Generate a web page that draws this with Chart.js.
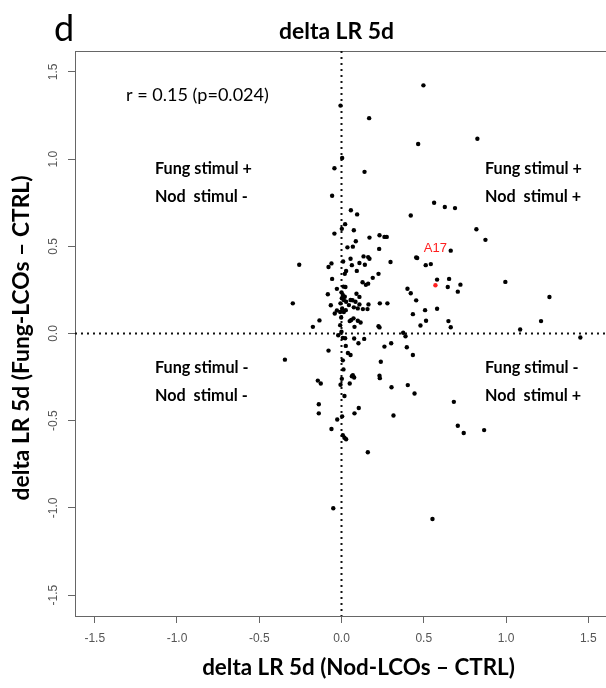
<!DOCTYPE html>
<html>
<head>
<meta charset="utf-8">
<script src="https://cdn.jsdelivr.net/npm/chart.js@4.4.0/dist/chart.umd.min.js"></script>
<style>
html, body { margin: 0; padding: 0; background: #fff; overflow: hidden; }
#wrap { width: 612px; height: 688px; position: relative; }
</style>
</head>
<body>
<div id="wrap"><canvas id="myChart"></canvas></div>
<script>
// axis ticks
const xTicks = [-1.5, -1.0, -0.5, 0.0, 0.5, 1.0, 1.5];
const yTicks = [-1.5, -1.0, -0.5, 0.0, 0.5, 1.0, 1.5];

// delta LR 5d: Nod-LCOs - CTRL (x) vs Fung-LCOs - CTRL (y)
const nodDelta = [
  0.498, -0.006, 0.168, 0.466, 0.004, -0.043, 0.14, -0.057, 0.563, 0.628,
  0.057, 0.095, 0.421, 0.022, 0.002, 0.075, -0.043, 0.231, 0.261, 0.275,
  0.17, 0.087, 0.036, 0.069, 0.229, 0.454, 0.826, 0.69, 0.82, 0.875,
  0.664, 0.543, 0.581, 0.654, 0.723, 0.707, 0.646, 0.996, 1.264, 0.581,
  0.65, 0.664, 1.213, 1.086, 1.452, 0.683, 0.707, 0.743, 0.867, 0.16,
  -0.05, 0.553, -0.257, -0.079, -0.061, 0.01, 0.055, 0.063, 0.109, 0.134,
  0.162, 0.17, 0.142, 0.298, 0.46, 0.512, 0.028, 0.02, 0.093, -0.057,
  0.225, 0.19, 0.128, 0.148, 0.162, 0.012, 0.024, -0.028, 0.401, 0.421,
  -0.083, 0.0, 0.008, 0.02, 0.002, 0.014, 0.091, -0.296, -0.065, -0.006,
  0.028, 0.045, 0.055, 0.085, 0.109, 0.164, 0.233, 0.279, 0.454, 0.004,
  0.026, 0.014, -0.028, -0.008, 0.075, 0.099, 0.13, 0.158, -0.041, 0.434,
  0.508, 0.059, 0.073, 0.05, 0.099, 0.116, -0.134, -0.174, -0.008, 0.079,
  0.225, 0.231, 0.514, 0.48, 0.0, 0.375, 0.389, -0.02, 0.008, 0.022,
  0.077, 0.138, 0.103, 0.302, 0.026, 0.261, 0.397, -0.079, 0.039, 0.055,
  0.434, -0.344, 0.239, 0.008, 0.012, 0.063, 0.077, 0.069, 0.231, 0.233,
  0.002, -0.144, -0.126, 0.05, -0.006, 0.304, 0.403, 0.444, 0.018, -0.138,
  0.105, 0.079, -0.138, 0.316, -0.026, -0.061, 0.008, 0.018, 0.028, 0.004,
  0.109, 0.067, -0.002
];
const fungDelta = [
  1.423, 1.307, 1.235, 1.087, 1.006, 0.948, 0.927, 0.79, 0.75, 0.725,
  0.707, 0.683, 0.677, 0.627, 0.60, 0.592, 0.573, 0.563, 0.554, 0.554,
  0.55, 0.529, 0.494, 0.498, 0.485, 0.436, 1.117, 0.719, 0.598, 0.537,
  0.475, 0.398, 0.309, 0.313, 0.28, 0.24, 0.267, 0.296, 0.209, 0.142,
  0.071, 0.036, 0.071, 0.023, -0.023, -0.392, -0.529, -0.571, -0.554, -0.681,
  -1.002, -1.064, 0.394, 0.381, 0.402, 0.413, 0.429, 0.392, 0.404, 0.442,
  0.438, 0.429, 0.394, 0.41, 0.433, 0.392, 0.358, 0.342, 0.359, 0.313,
  0.342, 0.319, 0.294, 0.279, 0.286, 0.269, 0.267, 0.256, 0.257, 0.231,
  0.225, 0.236, 0.221, 0.211, 0.202, 0.192, 0.228, 0.173, 0.162, 0.173,
  0.182, 0.163, 0.192, 0.182, 0.167, 0.167, 0.173, 0.173, 0.19, 0.144,
  0.134, 0.123, 0.132, 0.123, 0.15, 0.144, 0.14, 0.14, 0.115, 0.111,
  0.134, 0.077, 0.087, 0.071, 0.073, 0.063, 0.075, 0.038, 0.048, 0.038,
  0.042, 0.035, 0.073, 0.046, 0.01, 0.004, -0.016, -0.01, -0.025, -0.027,
  -0.029, -0.031, -0.056, -0.056, -0.071, -0.075, -0.079, -0.098, -0.112, -0.123,
  -0.123, -0.15, -0.162, -0.154, -0.206, -0.245, -0.252, -0.239, -0.242, -0.256,
  -0.26, -0.27, -0.287, -0.287, -0.294, -0.308, -0.296, -0.344, -0.358, -0.406,
  -0.427, -0.458, -0.458, -0.47, -0.493, -0.548, -0.583, -0.598, -0.606, -0.475,
  0.21, 0.191, 0.092
];

// highlighted genotype
const a17Label = ['A17'];
const a17X = [0.571];
const a17Y = [0.277];

// quadrant notes
const quadLines = [
  ['Fung stimul +', 'Nod  stimul -'],
  ['Fung stimul +', 'Nod  stimul +'],
  ['Fung stimul -', 'Nod  stimul -'],
  ['Fung stimul -', 'Nod  stimul +']
];
const corrText = 'r = 0.15 (p=0.024)';
const titleText = 'delta LR 5d';
const xTitle = 'delta LR 5d (Nod-LCOs \u2013 CTRL)';
const yTitle = 'delta LR 5d (Fung-LCOs \u2013 CTRL)';

const points = nodDelta.map((x, i) => ({ x: x, y: fungDelta[i] }));
const a17Points = a17X.map((x, i) => ({ x: x, y: a17Y[i] }));

// font size so that text spans a given width
function fitSize(ctx, text, weight, family, width) {
  ctx.font = weight + ' 100px ' + family;
  return 100 * width / ctx.measureText(text).width;
}

const decor = {
  id: 'decor',
  beforeDatasetsDraw(chart) {
    const { ctx, chartArea: a, scales: { x, y } } = chart;
    ctx.save();
    // rest of the box
    ctx.strokeStyle = '#666';
    ctx.lineWidth = 1;
    ctx.beginPath();
    ctx.moveTo(a.left, a.top + 0.5);
    ctx.lineTo(a.right, a.top + 0.5);
    ctx.lineTo(a.right - 0.5, a.bottom);
    ctx.stroke();
    // dotted zero lines
    ctx.strokeStyle = '#111';
    ctx.lineWidth = 2;
    ctx.setLineDash([2, 4]);
    const x0 = x.getPixelForValue(0), y0 = y.getPixelForValue(0);
    ctx.beginPath();
    ctx.moveTo(x0, a.top);
    ctx.lineTo(x0, a.bottom);
    ctx.moveTo(a.left, y0);
    ctx.lineTo(a.right, y0);
    ctx.stroke();
    ctx.restore();
  },
  afterDraw(chart) {
    const { ctx, scales: { x, y } } = chart;
    ctx.save();
    ctx.fillStyle = '#000';

    // rotated y tick labels, R style
    ctx.fillStyle = '#555';
    ctx.font = '12px "Liberation Sans", Arial, sans-serif';
    ctx.textAlign = 'center';
    ctx.textBaseline = 'middle';
    yTicks.forEach(v => {
      ctx.save();
      ctx.translate(54, y.getPixelForValue(v));
      ctx.rotate(-Math.PI / 2);
      ctx.fillText(v.toFixed(1), 0, 0);
      ctx.restore();
    });

    ctx.fillStyle = '#000';
    // panel letter
    ctx.font = '36px Lato';
    ctx.textAlign = 'left';
    ctx.textBaseline = 'alphabetic';
    ctx.fillText('d', 54, 41);

    // title
    let s = fitSize(ctx, titleText, 'bold', 'Lato', 115);
    ctx.font = 'bold ' + s + 'px Lato';
    ctx.textAlign = 'center';
    ctx.fillText(titleText, 336.5, 39);

    // correlation
    s = fitSize(ctx, corrText, 'normal', 'Lato', 143);
    ctx.font = s + 'px Lato';
    ctx.textAlign = 'left';
    ctx.textBaseline = 'middle';
    ctx.fillText(corrText, 126, 95);

    // quadrant notes
    s = fitSize(ctx, 'Fung stimul +', 'bold', 'Lato', 97);
    ctx.font = 'bold ' + s + 'px Lato';
    const qx = [155, 485, 155, 485];
    const qy = [169, 169, 368, 368];
    quadLines.forEach((lines, i) => {
      lines.forEach((t, j) => ctx.fillText(t, qx[i], qy[i] + j * 28));
    });

    // A17 label over its point
    const meta = chart.getDatasetMeta(1);
    ctx.fillStyle = '#ff2020';
    ctx.font = '13px "Liberation Sans", Arial, sans-serif';
    ctx.textAlign = 'center';
    meta.data.forEach((pt, i) => ctx.fillText(a17Label[i], pt.x, pt.y - 37));

    // axis titles
    ctx.fillStyle = '#000';
    s = fitSize(ctx, xTitle, 'bold', 'Lato', 313);
    ctx.font = 'bold ' + s + 'px Lato';
    ctx.fillText(xTitle, 358.5, 668);
    s = fitSize(ctx, yTitle, 'bold', 'Lato', 325);
    ctx.font = 'bold ' + s + 'px Lato';
    ctx.translate(22, 338);
    ctx.rotate(-Math.PI / 2);
    ctx.fillText(yTitle, 0, 0);
    ctx.restore();
  }
};

const ctx = document.getElementById('myChart').getContext('2d');

const myChart = new Chart(ctx, {
  type: 'scatter',
  data: {
    datasets: [{
      data: points,
      backgroundColor: '#000',
      borderWidth: 0,
      pointRadius: 2.2
    }, {
      data: a17Points,
      backgroundColor: '#ff2020',
      borderWidth: 0,
      pointRadius: 2.2
    }]
  },
  options: {
    responsive: true,
    maintainAspectRatio: false,
    animation: false,
    devicePixelRatio: 1,
    layout: { padding: { top: 51, right: 3.4, bottom: 0, left: 0 } },
    plugins: { legend: { display: false }, tooltip: { enabled: false }, title: { display: false } },
    scales: {
      x: {
        type: 'linear',
        min: -1.62,
        max: 1.62,
        afterBuildTicks: sc => { sc.ticks = xTicks.map(v => ({ value: v })); },
        afterFit: sc => { sc.height = 72; },
        ticks: {
          color: '#555',
          font: { family: '"Liberation Sans", Arial, sans-serif', size: 12 },
          padding: 8,
          maxRotation: 0,
          autoSkip: false,
          callback: v => Number(v).toFixed(1)
        },
        grid: { drawOnChartArea: false, drawTicks: true, tickLength: 7, color: '#666', lineWidth: 1 },
        border: { display: true, color: '#666', width: 1 }
      },
      y: {
        type: 'linear',
        min: -1.62,
        max: 1.62,
        afterBuildTicks: sc => { sc.ticks = yTicks.map(v => ({ value: v })); },
        afterFit: sc => { sc.width = 75; },
        ticks: { color: 'rgba(0,0,0,0)', font: { size: 12 } },
        grid: { drawOnChartArea: false, drawTicks: true, tickLength: 7, color: '#666', lineWidth: 1 },
        border: { display: true, color: '#666', width: 1 }
      }
    }
  },
  plugins: [decor]
});
</script>
</body>
</html>
